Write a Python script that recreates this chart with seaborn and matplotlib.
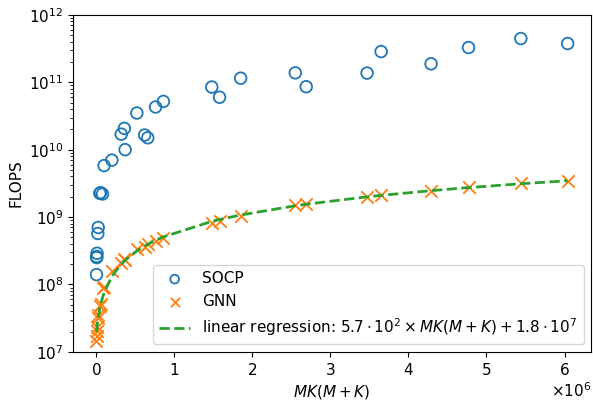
import numpy as np
import matplotlib
matplotlib.use("Agg")
import matplotlib.pyplot as plt
import seaborn as sns

plt.rcParams.update({'font.size': 11, 'axes.formatter.use_mathtext': True})

# problem size MK(M+K), in units of 1e6
size_m = [0.003, 0.005, 0.007, 0.010, 0.020, 0.025, 0.045, 0.055, 0.08, 0.10,
          0.20, 0.32, 0.36, 0.37, 0.52, 0.62, 0.66, 0.76, 0.86, 1.48,
          1.58, 1.85, 2.55, 2.69, 3.47, 3.65, 4.29, 4.77, 5.44, 6.04]

# FLOPS of the SOCP solver
socp_flops = [1.4e8, 2.5e8, 2.6e8, 2.9e8, 5.7e8, 7.0e8, 2.25e9, 2.3e9, 2.2e9, 5.8e9,
              7.0e9, 1.7e10, 2.07e10, 1.0e10, 3.5e10, 1.65e10, 1.5e10, 4.3e10, 5.2e10, 8.5e10,
              6.0e10, 1.15e11, 1.38e11, 8.6e10, 1.37e11, 2.86e11, 1.88e11, 3.28e11, 4.46e11, 3.76e11]

# FLOPS of the GNN
gnn_flops = [1.45e7, 1.7e7, 2.05e7, 2.3e7, 3.2e7, 3.5e7, 4.8e7, 5.2e7, 8.8e7, 9.2e7,
             1.6e8, 2.1e8, 2.35e8, 2.3e8, 3.3e8, 3.65e8, 3.95e8, 4.4e8, 4.95e8, 8.3e8,
             8.8e8, 1.02e9, 1.52e9, 1.57e9, 2.0e9, 2.13e9, 2.47e9, 2.77e9, 3.18e9, 3.48e9]

# fitted regression coefficients (from the legend)
slope = 5.7e2
intercept = 1.8e7

x = np.array(size_m) * 1e6
fit = slope * x + intercept

fig, ax = plt.subplots(figsize=(5.93, 4.03), dpi=100)
fig.subplots_adjust(left=0.123, right=0.997, top=0.963, bottom=0.127)

sns.scatterplot(x=x, y=socp_flops, marker='o', s=70, facecolor='none',
                edgecolor='#1f77b4', linewidth=1.3, label='SOCP', ax=ax)
sns.scatterplot(x=x, y=gnn_flops, marker='x', s=80, color='#ff7f0e',
                linewidth=1.3, label='GNN', ax=ax)
sns.lineplot(x=x, y=fit, color='#2ca02c', linestyle='--', linewidth=2,
             errorbar=None,
             label=r'linear regression: $5.7\cdot10^2\times MK(M+K)+1.8\cdot10^7$', ax=ax)

ax.set_yscale('log')
ax.set_ylim(1e7, 1e12)
ax.set_xlabel(r'$MK(M+K)$')
ax.set_ylabel('FLOPS')
ax.legend(loc='lower right', markerscale=0.75)

fig.savefig('out.png', dpi=100)
